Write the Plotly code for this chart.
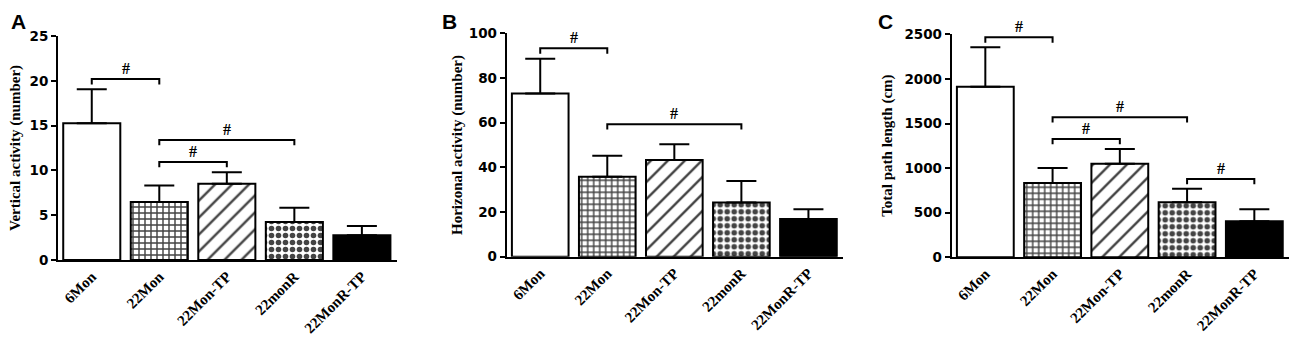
import plotly.graph_objects as go

categories = ["6Mon", "22Mon", "22Mon-TP", "22monR", "22MonR-TP"]

# Panel A: Vertical activity
vert_mean = [15.25, 6.47, 8.5, 4.24, 2.75]
vert_err = [3.8, 1.85, 1.3, 1.6, 1.05]
# Panel B: Horizontal activity
hor_mean = [73.1, 35.8, 43.3, 24.3, 16.9]
hor_err = [15.5, 9.4, 7.0, 9.6, 4.3]
# Panel C: Total path length
path_mean = [1912, 833, 1049, 617, 404]
path_err = [442, 168, 165, 152, 134]

# Significance brackets: (group i, group j, bracket height)
vert_sig = [(0, 1, 20.2), (1, 3, 13.4), (1, 2, 10.94)]
hor_sig = [(0, 1, 93.3), (1, 3, 59.3)]
path_sig = [(0, 1, 2466), (1, 3, 1570), (1, 2, 1326), (3, 4, 878)]

y_titles = ["Vertical activity (number)", "Horizonal activity (number)", "Total path length (cm)"]
y_ranges = [(0, 25), (0, 100), (0, 2500)]
y_dticks = [5, 20, 500]
panel_letters = ["A", "B", "C"]

# the page has an 8px body margin, so the figure is 16px smaller than the window
W, H = 1284, 327
OFF = 8
# pixel geometry (window coords) of the three panels: (x_left, x_right, y_zero, y_top)
panels_px = [(58, 397, 260, 36), (506.7, 843.3, 256.7, 33.3), (951.7, 1289.3, 257.3, 34.3)]
title_x_px = [16, 457, 888]
letter_x_px = [18, 449, 885]

fills = ["white", "white", "white", "white", "black"]
shapes_pat = ["", "+", "/", ".", ""]
pat_size = [8, 6, 12, 7, 8]
pat_sol = [0.3, 0.42, 0.2, 0.5, 0.3]


def px_x(p):
    return (p - OFF) / W


def px_y(p):
    return 1 - (p - OFF) / H


fig = go.Figure()
serif_bold = dict(family="Liberation Serif", size=15, color="black", weight="bold")
sans_bold = dict(family="DejaVu Sans", size=13.5, color="black", weight="bold")

datasets = [(vert_mean, vert_err, vert_sig), (hor_mean, hor_err, hor_sig), (path_mean, path_err, path_sig)]
annotations = []
shapes = []
for k, (means, errs, sig) in enumerate(datasets):
    n = "" if k == 0 else str(k + 1)
    xa, ya = "x" + n, "y" + n
    fig.add_trace(go.Bar(
        x=list(range(len(categories))), y=means,
        xaxis=xa, yaxis=ya, width=0.845,
        marker=dict(
            color=fills,
            line=dict(color="black", width=2),
            pattern=dict(shape=shapes_pat, fgcolor="black", fgopacity=1,
                         size=pat_size, solidity=pat_sol, fillmode="overlay"),
        ),
        error_y=dict(type="data", symmetric=False, array=errs,
                     arrayminus=[0] * len(errs), color="black", thickness=2, width=15),
        showlegend=False, hoverinfo="skip",
    ))
    x0p, x1p, yzp, ytp = panels_px[k]
    fig.layout["xaxis" + n] = dict(
        domain=[px_x(x0p), px_x(x1p)], anchor=ya, range=[-0.5, 4.52],
        tickmode="array", tickvals=list(range(len(categories))), ticktext=categories,
        tickangle=-45, tickfont=serif_bold, showline=True, linecolor="black", linewidth=2,
        ticks="", showgrid=False, zeroline=False, fixedrange=True, automargin=False,
    )
    fig.layout["yaxis" + n] = dict(
        domain=[px_y(yzp), px_y(ytp)], anchor=xa, range=list(y_ranges[k]),
        dtick=y_dticks[k], tick0=0, tickfont=sans_bold, showline=True, linecolor="black",
        linewidth=2, ticks="outside", ticklen=5, tickwidth=2, tickcolor="black",
        showgrid=False, zeroline=False, fixedrange=True, automargin=False,
    )
    ymax = y_ranges[k][1]
    drop = ymax * 0.024
    for (i, j, h) in sig:
        shapes.append(dict(type="path", xref=xa, yref=ya,
                           path=f"M {i},{h - drop} L {i},{h} L {j},{h} L {j},{h - drop}",
                           line=dict(color="black", width=2)))
        annotations.append(dict(x=(i + j) / 2, y=h, xref=xa, yref=ya, text="#",
                                showarrow=False, yanchor="bottom", yshift=0,
                                font=dict(family="Liberation Serif", size=16, color="black", weight="bold")))
    annotations.append(dict(x=px_x(title_x_px[k]), y=px_y((yzp + ytp) / 2), xref="paper", yref="paper",
                            text=y_titles[k], textangle=-90, showarrow=False,
                            xanchor="center", yanchor="middle", font=serif_bold))
    annotations.append(dict(x=px_x(letter_x_px[k]), y=1, xref="paper", yref="paper",
                            text=panel_letters[k], showarrow=False, xanchor="center", yanchor="top",
                            font=dict(family="Liberation Sans", size=21, color="black", weight="bold")))

fig.update_layout(
    width=W, height=H, margin=dict(l=0, r=0, t=0, b=0, autoexpand=False),
    paper_bgcolor="white", plot_bgcolor="white",
    annotations=annotations, shapes=shapes, bargap=0.155,
)
fig.write_html("out.html")
